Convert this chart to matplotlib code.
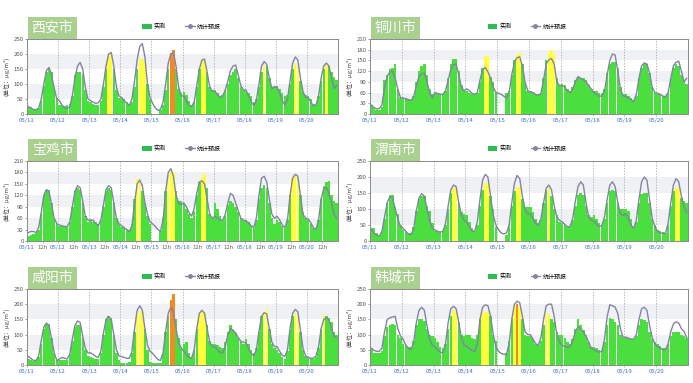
import matplotlib.pyplot as plt
import numpy as np
from matplotlib.patches import Patch, Rectangle
from matplotlib.lines import Line2D

plt.rcParams['font.family'] = ['Noto Sans CJK SC', 'DejaVu Sans']

nan = np.nan
days = ['05/11', '05/12', '05/13', '05/14', '05/15', '05/16', '05/17', '05/18', '05/19', '05/20']

# 2-hourly values, 12 per day (00h, 02h, ... 22h)
obs_xian = [25, 22, 18, 15, 20, 45, 95, 140, 155, 140, 90, 55,
            30, 30, 28, 30, 35, 60, 130, 140, 140, 135, 80, 45,
            40, 35, 30, 30, 45, 90, 150, 195, 200, 150, 80, 55,
            55, 50, 40, 35, 40, 90, 150, 185, 185, 170, 100, 50,
            nan, nan, nan, 15, 30, 80, 150, 205, 215, 150, 85, 70,
            75, 65, 45, 30, 40, 90, 150, 175, 180, 140, 90, 80,
            80, 70, 60, 65, 80, 100, 130, 140, 150, 120, 90, 80,
            75, 70, 60, 40, 50, 90, 140, 165, 160, 120, 90, 95,
            95, 85, 70, 60, 65, 100, 150, 170, 165, 110, 75, 65,
            60, 50, 35, 30, 60, 110, 150, 165, 160, 140, 125, 115]
fc_xian = [25, 20, 15, 14, 20, 50, 100, 145, 155, 130, 85, 50,
           45, 30, 20, 18, 25, 60, 120, 160, 172, 150, 90, 50,
           45, 40, 35, 38, 50, 100, 160, 200, 205, 160, 90, 60,
           55, 45, 35, 30, 50, 110, 180, 225, 235, 190, 100, 55,
           35, 20, 12, 15, 40, 100, 170, 200, 205, 160, 90, 60,
           60, 45, 30, 25, 40, 95, 150, 180, 183, 140, 90, 75,
           75, 65, 55, 60, 80, 110, 145, 160, 163, 130, 95, 80,
           80, 60, 40, 28, 45, 100, 160, 175, 165, 120, 85, 90,
           90, 70, 45, 30, 50, 110, 170, 190, 180, 120, 75, 55,
           55, 40, 28, 30, 60, 120, 160, 170, 160, 120, 85, 95]

obs_tongchuan = [25, 18, 12, 12, 20, 95, 110, 125, 130, 140, 70, 45,
                 45, 45, 42, 40, 50, 90, 120, 135, 140, 110, 70, 55,
                 60, 60, 55, 55, 65, 100, 140, 155, 155, 120, 80, 65,
                 65, 60, 55, 55, 60, 90, 130, 162, 162, 105, 90, 60,
                 nan, nan, nan, 60, 65, 110, 150, 165, 172, 140, 90, 65,
                 65, 60, 55, 55, 60, 100, 150, 170, 180, 165, 100, 80,
                 85, 80, 70, 65, 75, 95, 105, 100, 100, 95, 80, 70,
                 65, 65, 60, 60, 70, 115, 140, 145, 145, 130, 75, 55,
                 55, 50, 45, 40, 50, 100, 130, 140, 140, 115, 75, 60,
                 60, 55, 50, 50, 60, 100, 130, 140, 135, 110, 90, 85]
fc_tongchuan = [25, 18, 14, 15, 25, 75, 105, 118, 120, 100, 70, 45,
                45, 42, 40, 38, 48, 80, 105, 112, 115, 90, 60, 45,
                60, 58, 55, 55, 65, 95, 125, 138, 140, 110, 75, 65,
                70, 65, 58, 55, 60, 95, 125, 130, 118, 100, 75, 60,
                58, 55, 50, 45, 60, 110, 145, 158, 160, 135, 90, 65,
                62, 60, 55, 52, 58, 95, 140, 152, 155, 140, 90, 80,
                80, 75, 65, 60, 70, 90, 105, 100, 95, 90, 80, 70,
                60, 55, 50, 50, 65, 110, 150, 168, 165, 120, 70, 50,
                50, 45, 40, 35, 55, 100, 135, 143, 140, 115, 75, 60,
                58, 55, 50, 48, 60, 100, 135, 145, 148, 120, 90, 100]

obs_baoji = [12, 15, 18, 20, 30, 70, 120, 135, 135, 100, 60, 45,
             40, 40, 40, 40, 50, 90, 130, 140, 135, 100, 65, 50,
             55, 50, 50, 45, 55, 90, 130, 138, 135, 100, 60, 45,
             38, 35, 30, 28, 45, 110, 162, 162, 130, 100, 65, 45,
             nan, nan, nan, 25, 60, 130, 175, 185, 180, 130, 105, 105,
             100, 85, 70, 60, 80, 120, 155, 165, 175, 140, 70, 60,
             100, 85, 65, 55, 65, 95, 105, 100, 90, 75, 60, 55,
             55, 50, 40, 35, 55, 110, 140, 148, 140, 100, 60, 45,
             55, 50, 40, 35, 55, 120, 165, 172, 168, 120, 75, 60,
             55, 45, 35, 30, 55, 110, 145, 155, 158, 120, 105, 100]
fc_baoji = [22, 25, 25, 22, 35, 75, 120, 135, 130, 95, 60, 45,
            42, 40, 38, 38, 50, 90, 130, 145, 140, 105, 65, 55,
            55, 55, 45, 40, 55, 95, 135, 145, 140, 100, 60, 45,
            40, 35, 30, 25, 40, 100, 150, 160, 145, 100, 70, 50,
            45, 38, 30, 25, 55, 130, 180, 190, 170, 120, 100, 95,
            100, 90, 75, 65, 85, 125, 155, 158, 150, 110, 70, 60,
            65, 60, 55, 55, 70, 100, 125, 120, 100, 80, 60, 55,
            52, 48, 40, 35, 60, 120, 165, 170, 155, 110, 70, 60,
            65, 55, 42, 35, 55, 120, 165, 175, 170, 120, 70, 60,
            58, 48, 35, 30, 55, 110, 138, 140, 125, 100, 70, 60]

obs_weinan = [40, 40, 25, 18, 30, 70, 120, 145, 145, 105, 85, 50,
              35, 30, 25, 25, 45, 95, 130, 140, 140, 110, 95, 55,
              30, 30, 28, 30, 50, 100, 150, 165, 165, 120, 90, 85,
              80, 60, 40, 30, 50, 110, 160, 180, 180, 140, 100, 45,
              nan, nan, nan, 20, 50, 110, 155, 170, 170, 130, 105, 105,
              105, 90, 70, 55, 70, 120, 160, 165, 140, 100, 80, 60,
              55, 50, 45, 45, 65, 110, 145, 150, 145, 110, 80, 75,
              80, 70, 55, 50, 70, 120, 155, 160, 155, 120, 100, 100,
              100, 95, 70, 45, 60, 120, 148, 150, 150, 120, 70, 50,
              35, 30, 28, 25, 50, 110, 155, 170, 165, 135, 125, 120]
fc_weinan = [35, 25, 18, 15, 30, 75, 120, 138, 135, 100, 70, 45,
             40, 30, 22, 20, 40, 95, 135, 148, 140, 100, 65, 40,
             35, 30, 28, 30, 55, 110, 160, 175, 170, 120, 80, 65,
             60, 45, 32, 30, 60, 130, 190, 208, 200, 140, 80, 50,
             35, 25, 22, 25, 50, 120, 180, 205, 195, 140, 100, 85,
             85, 70, 55, 50, 70, 120, 165, 175, 160, 110, 75, 65,
             60, 52, 45, 45, 70, 125, 170, 185, 175, 120, 75, 65,
             62, 52, 45, 48, 75, 130, 175, 185, 170, 120, 85, 80,
             85, 70, 50, 40, 65, 130, 185, 200, 190, 130, 70, 45,
             30, 25, 24, 25, 55, 120, 175, 195, 185, 140, 105, 90]

obs_xianyang = [20, 15, 12, 15, 25, 70, 120, 135, 135, 90, 40, 15,
                15, 15, 15, 18, 35, 80, 125, 130, 130, 90, 50, 30,
                25, 22, 20, 20, 40, 100, 150, 160, 155, 100, 40, 15,
                8, 8, 8, 10, 40, 110, 165, 178, 175, 120, 50, 10,
                5, 5, 5, 8, 40, 110, 160, 215, 235, 150, 90, 60,
                70, 75, 40, 25, 50, 120, 165, 178, 175, 130, 80, 70,
                70, 65, 60, 55, 75, 110, 130, 115, 105, 90, 75, 70,
                85, 70, 50, 40, 55, 110, 160, 175, 180, 120, 70, 55,
                50, 40, 25, 20, 45, 115, 160, 170, 165, 110, 50, 30,
                25, 22, 20, 25, 55, 120, 165, 160, 155, 140, 110, 100]
fc_xianyang = [28, 22, 15, 15, 30, 80, 125, 138, 130, 85, 40, 15,
               20, 25, 22, 20, 35, 85, 130, 145, 140, 95, 55, 40,
               40, 35, 28, 25, 45, 105, 150, 160, 150, 100, 50, 30,
               28, 25, 22, 22, 45, 120, 180, 195, 180, 120, 65, 45,
               38, 28, 18, 15, 40, 110, 170, 190, 175, 120, 75, 55,
               45, 35, 25, 22, 50, 120, 170, 180, 170, 120, 75, 60,
               60, 50, 42, 40, 60, 100, 120, 115, 105, 90, 78, 75,
               72, 55, 38, 30, 50, 110, 160, 172, 168, 120, 75, 60,
               60, 45, 32, 28, 50, 120, 170, 183, 175, 115, 55, 30,
               25, 22, 22, 30, 60, 120, 150, 155, 150, 120, 95, 90]

obs_hancheng = [55, 40, 38, 38, 45, 95, 125, 130, 135, 130, 100, 90,
                70, 65, 60, 60, 80, 130, 150, 150, 145, 120, 100, 95,
                90, 75, 60, 55, 70, 120, 160, 180, 170, 140, 100, 95,
                100, 100, 90, 85, 100, 150, 170, 175, 175, 160, 100, 80,
                nan, nan, nan, 40, 80, 150, 195, 202, 190, 150, 100, 95,
                95, 85, 70, 65, 80, 130, 170, 168, 150, 140, 110, 100,
                100, 90, 75, 70, 85, 120, 150, 130, 115, 100, 75, 60,
                60, 55, 50, 50, 75, 130, 155, 150, 140, 130, 100, 90,
                90, 88, 85, 85, 95, 130, 150, 148, 140, 110, 85, 75,
                70, 62, 55, 55, 70, 95, 108, 110, 108, 100, 95, 90]
fc_hancheng = [55, 48, 45, 45, 55, 110, 150, 155, 158, 160, 120, 95,
               85, 65, 55, 50, 75, 140, 180, 190, 180, 130, 85, 65,
               60, 50, 42, 40, 70, 140, 185, 193, 185, 140, 90, 65,
               62, 55, 48, 45, 70, 150, 190, 198, 195, 160, 100, 60,
               45, 38, 35, 35, 70, 150, 200, 210, 205, 160, 110, 100,
               100, 85, 70, 65, 90, 150, 195, 200, 200, 160, 100, 75,
               65, 60, 58, 60, 80, 110, 125, 120, 110, 95, 75, 55,
               50, 45, 42, 45, 85, 160, 198, 195, 190, 170, 120, 90,
               92, 88, 85, 85, 100, 150, 185, 190, 180, 130, 90, 70,
               60, 55, 50, 50, 70, 110, 135, 142, 138, 120, 110, 90]

panels = [
    ('西安市', obs_xian, fc_xian, 250, 50, False),
    ('铜川市', obs_tongchuan, fc_tongchuan, 210, 30, False),
    ('宝鸡市', obs_baoji, fc_baoji, 210, 30, True),
    ('渭南市', obs_weinan, fc_weinan, 250, 50, False),
    ('咸阳市', obs_xianyang, fc_xianyang, 250, 50, False),
    ('韩城市', obs_hancheng, fc_hancheng, 250, 50, False),
]

W, H = 693, 383
cols = [(27, 311), (370, 318)]
rows = [(39, 114), (161, 241), (289, 365)]

green = '#4ade3e'
yellow = '#ffff3c'
orange = '#f58a22'
line_c = '#8383a5'

fig = plt.figure(figsize=(W / 100, H / 100), dpi=100)

for k, (name, obs, fc, ymax, step, half_ticks) in enumerate(panels):
    r, c = divmod(k, 2)
    x0, w = cols[c]
    t, b = rows[r]
    ax = fig.add_axes([x0 / W, 1 - b / H, w / W, (b - t) / H])

    obs = np.array(obs, dtype=float)
    fc = np.array(fc, dtype=float)
    hours = np.arange(len(obs)) * 2 + 1

    # alternating background bands
    for i in range(1, ymax // step, 2):
        ax.axhspan(i * step, (i + 1) * step, color='#eff1f5', zorder=0, lw=0)

    ok = np.isfinite(obs)
    colors = [orange if v > 200 else yellow if v > 160 else green for v in obs[ok]]
    ax.bar(hours[ok], obs[ok], width=1.88, color=colors, zorder=2, lw=0)
    ax.plot(hours, fc, color=line_c, lw=1.0, zorder=3)

    for d in range(1, 10):
        ax.axvline(d * 24, color='#a0a0a0', lw=0.5, ls=(0, (2, 2)), zorder=1)

    ax.set_xlim(0, 240)
    ax.set_ylim(0, ymax)
    ax.set_yticks(np.arange(0, ymax + 1, step))
    ax.tick_params(axis='y', labelsize=4.3, colors='#555555', length=1.5, width=0.4, pad=1)
    if half_ticks:
        ticks = np.arange(0, 240, 12)
        labels = [days[i // 2] if i % 2 == 0 else '12h' for i in range(len(ticks))]
    else:
        ticks = np.arange(0, 240, 24)
        labels = days
    ax.set_xticks(ticks)
    ax.set_xticklabels(labels)
    ax.tick_params(axis='x', labelsize=4.3, length=1.5, width=0.4, pad=1.5, colors='#888888')
    for lab in ax.get_xticklabels():
        lab.set_color('#666666' if lab.get_text() == '12h' else '#3c6fd2')
    for s in ax.spines.values():
        s.set_color('#8a8a8a')
        s.set_linewidth(0.7)

    ax.set_ylabel('(单位：μg/m³)', fontsize=4.3, color='#444444', labelpad=3)

    handles = [Patch(facecolor='#2cbf50', edgecolor='none'),
               Line2D([0], [0], color=line_c, lw=0.9, marker='o', markersize=2.5)]
    ax.legend(handles, ['实测', '统计预报'], ncol=2, loc='center left',
              bbox_to_anchor=(0.37, 1 + 12.5 / (b - t)), frameon=False, fontsize=4.3,
              handlelength=1.6, handleheight=0.9, columnspacing=3.2, handletextpad=0.4,
              borderaxespad=0, borderpad=0)

    # city name box
    bx, bw, bh = x0 + 1, 49, 22
    fig.add_artist(Rectangle((bx / W, 1 - t / H), bw / W, bh / H,
                             transform=fig.transFigure, facecolor='#a9d08e', edgecolor='none'))
    fig.text((bx + bw / 2) / W, 1 - (t - bh / 2) / H, name, color='white', fontsize=10,
             ha='center', va='center')

fig.savefig('out.png', dpi=100)
